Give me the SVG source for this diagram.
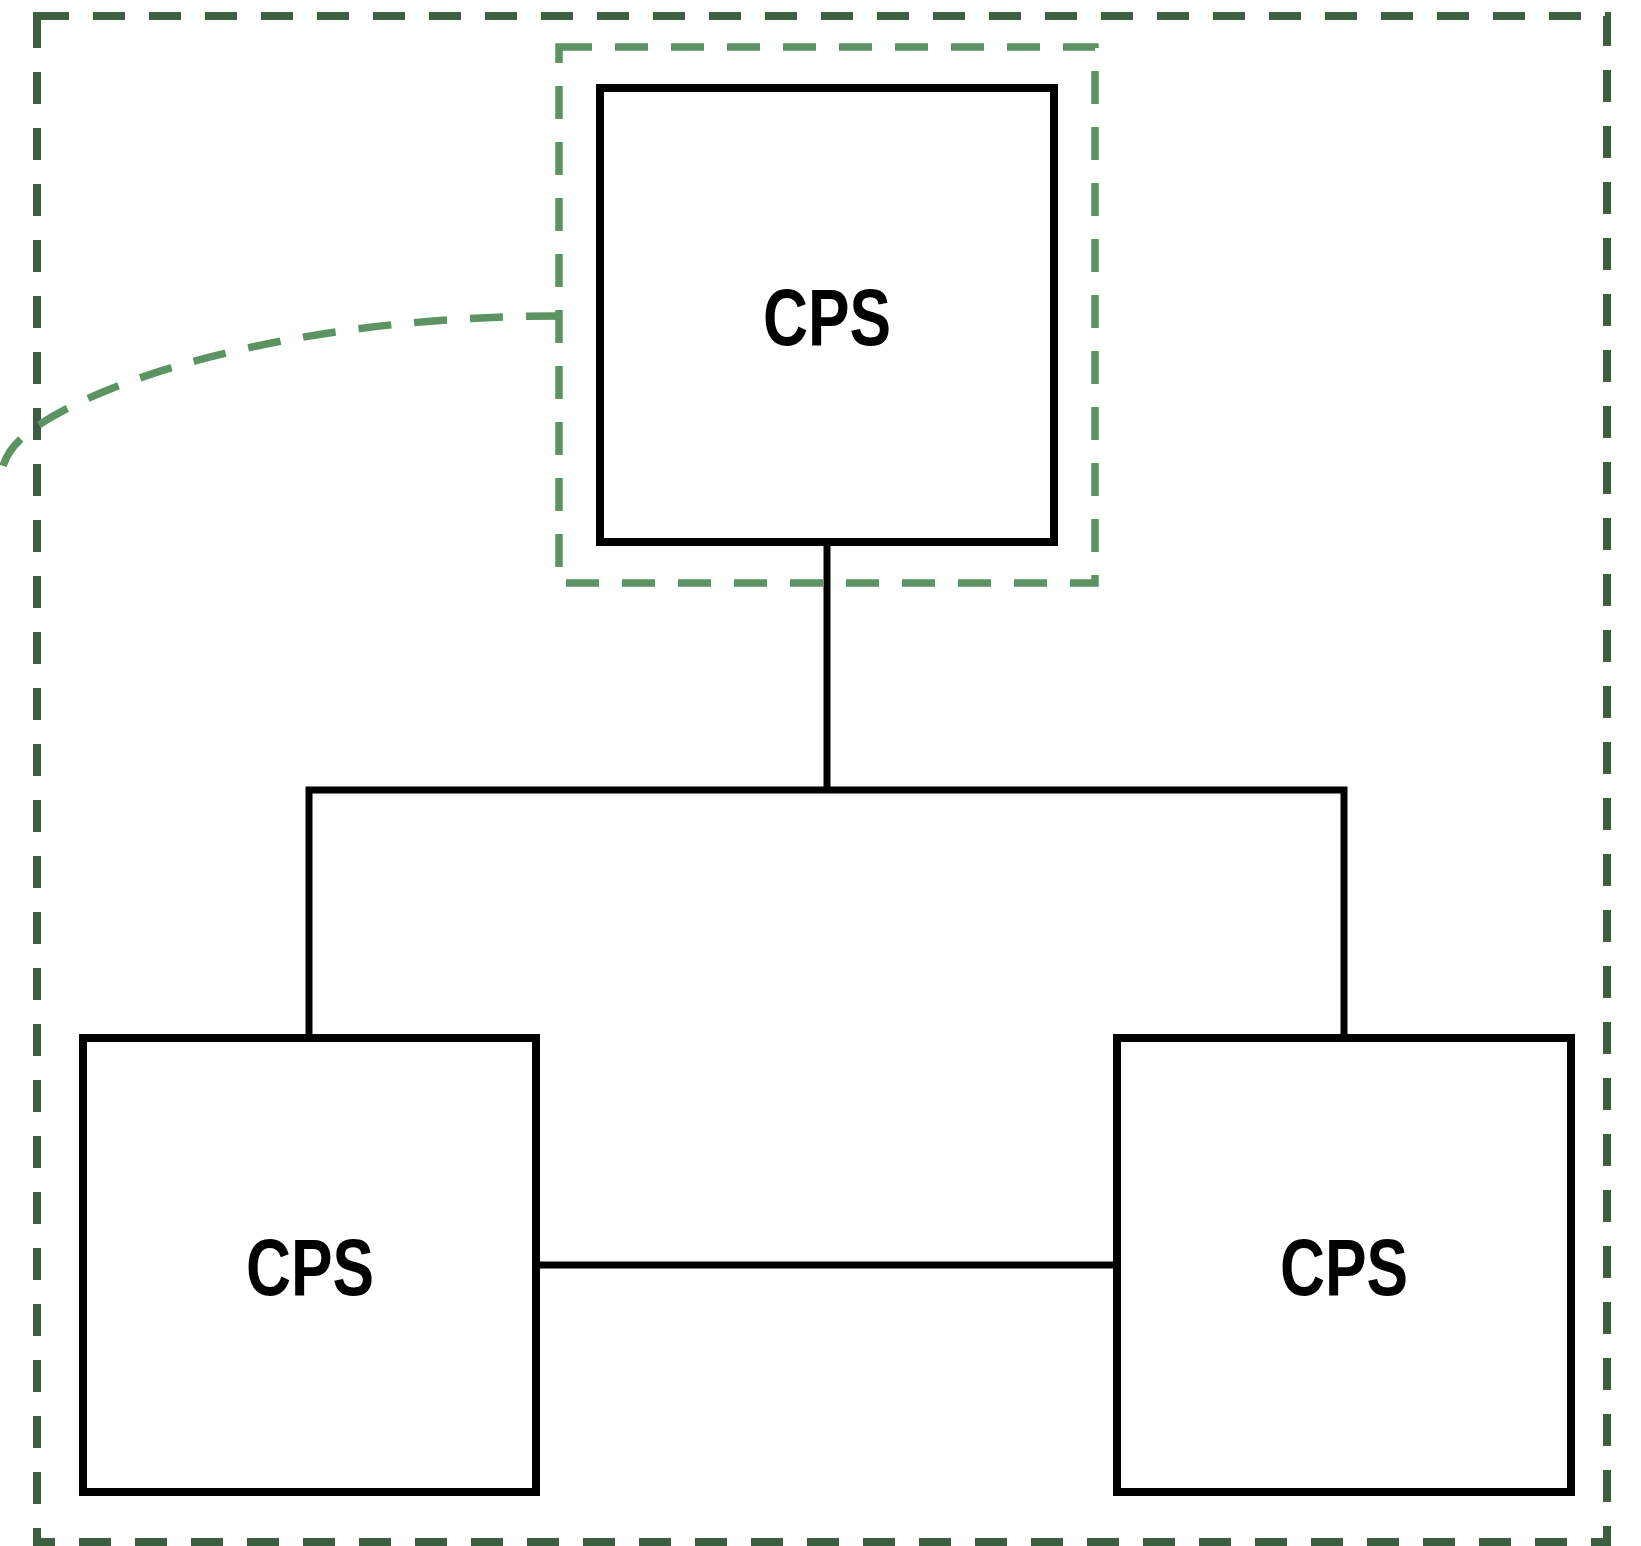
<svg xmlns="http://www.w3.org/2000/svg" width="1641" height="1546" viewBox="0 0 1641 1546">
<style>
.outer{fill:none;stroke:#3c5f3f;stroke-width:8;stroke-dasharray:32 24}
.inner{fill:none;stroke:#5b9362;stroke-width:7.5;stroke-dasharray:33 23}
.box{fill:#ffffff;stroke:#000000;stroke-width:8}
.conn{fill:none;stroke:#000000;stroke-width:7}
.lbl{font-family:"Liberation Sans",Arial,sans-serif;font-weight:bold;font-size:80px;fill:#000000;text-anchor:middle}
</style>
<rect width="1641" height="1546" fill="#ffffff"/>
<g id="outer-boundary">
<rect class="outer" x="37" y="16" width="1570" height="1526"/>
</g>
<g id="connectors">
<line class="conn" x1="827" y1="542" x2="827" y2="790"/>
<polyline class="conn" points="309,1038 309,790 1344,790 1344,1038"/>
<line class="conn" x1="536" y1="1265" x2="1117" y2="1265"/>
</g>
<g id="node-top">
<rect class="box" x="600" y="88" width="454" height="454"/>
<text class="lbl" x="827" y="345" textLength="128" lengthAdjust="spacingAndGlyphs">CPS</text>
</g>
<g id="node-left">
<rect class="box" x="83" y="1038" width="453" height="454"/>
<text class="lbl" x="310" y="1295" textLength="128" lengthAdjust="spacingAndGlyphs">CPS</text>
</g>
<g id="node-right">
<rect class="box" x="1117" y="1038" width="454" height="454"/>
<text class="lbl" x="1344" y="1295" textLength="128" lengthAdjust="spacingAndGlyphs">CPS</text>
</g>
<g id="highlight">
<rect class="inner" x="559" y="47" width="536" height="536"/>
<path class="inner" d="M559,316 C330,316 130,365 37,426 C20,438 8,450 3,466"/>
</g>
</svg>
